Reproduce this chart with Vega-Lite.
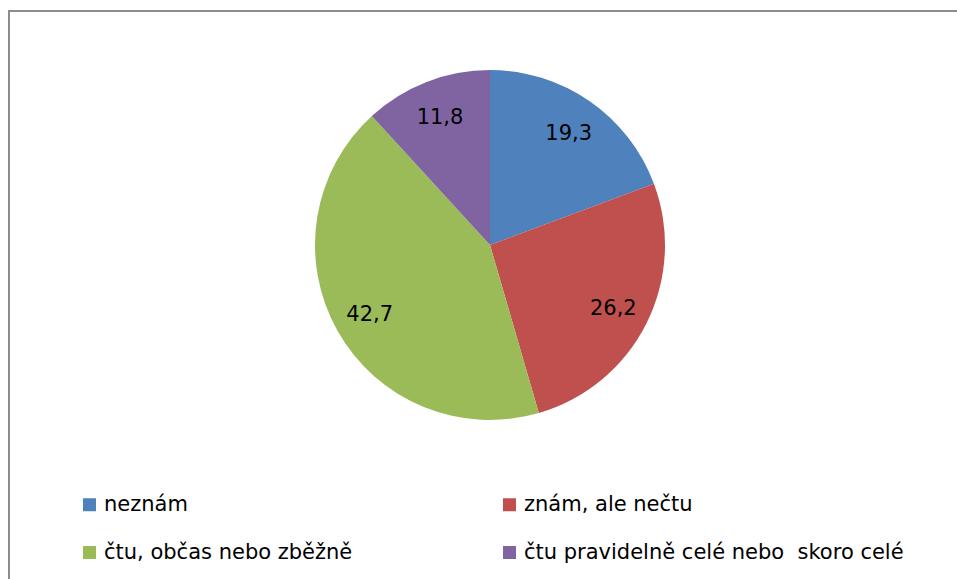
{
  "$schema": "https://vega.github.io/schema/vega-lite/v6.json",
  "width": 962,
  "height": 600,
  "padding": {"left": 9, "top": 11, "right": 0, "bottom": 0},
  "background": "white",
  "view": {"stroke": "#8c8c8c", "strokeWidth": 2, "fill": null},
  "data": {
    "values": [
      {"cat": "neznám", "value": 19.3, "order": 1},
      {"cat": "znám, ale nečtu", "value": 26.2, "order": 2},
      {"cat": "čtu, občas nebo zběžně", "value": 42.7, "order": 3},
      {"cat": "čtu pravidelně celé nebo\u00a0 skoro celé", "value": 11.8, "order": 4}
    ]
  },
  "encoding": {
    "theta": {"field": "value", "type": "quantitative", "stack": true},
    "order": {"field": "order", "type": "quantitative"}
  },
  "layer": [
    {
      "mark": {"type": "arc", "outerRadius": 175, "yOffset": -66},
      "encoding": {
        "color": {
          "field": "cat",
          "type": "nominal",
          "scale": {
            "domain": ["neznám", "znám, ale nečtu", "čtu, občas nebo zběžně", "čtu pravidelně celé nebo\u00a0 skoro celé"],
            "range": ["#4F81BD", "#C0504D", "#9BBB59", "#8064A2"]
          },
          "legend": {
            "title": null,
            "orient": "none",
            "legendX": 70,
            "legendY": 483,
            "direction": "horizontal",
            "columns": 2,
            "columnPadding": 146,
            "rowPadding": 26,
            "symbolType": "square",
            "symbolSize": 169,
            "symbolStrokeWidth": 0,
            "symbolOpacity": 1,
            "labelFont": "DejaVu Sans",
            "labelFontSize": 21,
            "labelColor": "#000000",
            "labelOffset": 4,
            "labelLimit": 500
          }
        }
      }
    },
    {
      "mark": {"type": "text", "radius": 138, "font": "DejaVu Sans", "fontSize": 21, "fill": "#000000", "yOffset": -64},
      "encoding": {
        "detail": {"field": "cat", "type": "nominal"},
        "text": {"field": "value", "type": "quantitative", "format": ".1f"}
      }
    }
  ],
  "config": {
    "locale": {"number": {"decimal": ",", "thousands": " ", "grouping": [3], "currency": ["", " Kč"]}}
  }
}
